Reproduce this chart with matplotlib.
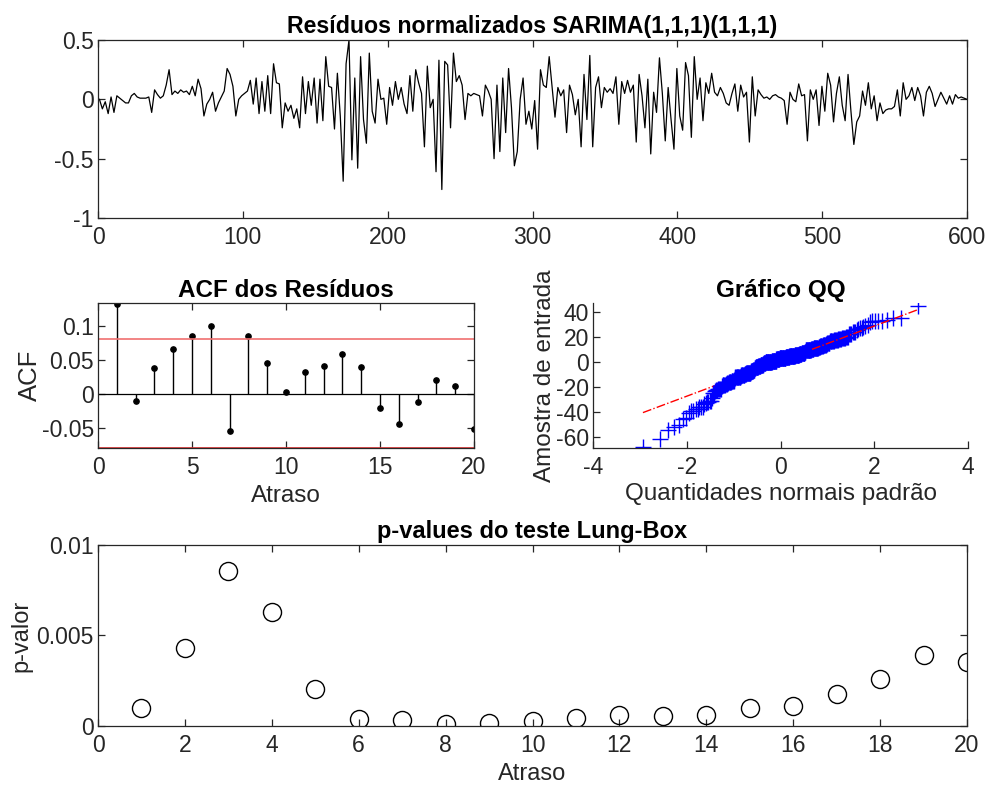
import numpy as np
import matplotlib
matplotlib.use("Agg")
import matplotlib.pyplot as plt
from statistics import NormalDist

plt.rcParams['font.family'] = ['Liberation Sans', 'DejaVu Sans']
plt.rcParams['axes.unicode_minus'] = False

# ---------------- data ----------------
# normalized residuals (read every ~2 samples)
resid = [
    0.0, -0.08, -0.02, -0.12, 0.02, -0.11, 0.03, 0.01, -0.01, -0.03,
    -0.03, 0.03, 0.05, 0.02, 0.01, 0.01, 0.01, 0.02, -0.11, 0.08,
    0.04, 0.01, 0.03, 0.12, 0.25, 0.04, 0.07, 0.05, 0.08, 0.06,
    0.07, 0.04, 0.11, 0.03, 0.17, 0.09, -0.14, -0.04, 0.0, 0.06,
    -0.1, -0.03, 0.02, 0.07, 0.26, 0.21, 0.11, -0.14, 0.0, 0.03,
    0.05, 0.07, 0.16, -0.04, 0.18, -0.12, 0.15, -0.1, 0.2, -0.12,
    0.3, 0.14, 0.13, -0.24, -0.03, -0.1, -0.05, -0.16, -0.08, -0.24,
    0.19, -0.12, 0.15, -0.05, 0.18, -0.2, 0.17, -0.18, 0.36, 0.11,
    0.1, -0.25, 0.22, -0.14, -0.69, 0.3, 0.5, -0.51, 0.18, -0.58,
    0.36, -0.17, -0.37, 0.39, -0.1, -0.2, 0.17, 0.0, 0.01, -0.21,
    0.1, -0.05, 0.15, 0.0, 0.1, -0.04, -0.12, 0.2, -0.1, 0.25,
    0.14, 0.05, -0.4, 0.28, -0.07, 0.0, -0.61, 0.33, -0.76, 0.32,
    0.29, -0.24, 0.39, 0.15, 0.2, 0.12, -0.17, 0.05, 0.03, 0.05,
    0.04, 0.03, -0.14, 0.12, 0.07, 0.0, -0.5, 0.12, -0.44, 0.18,
    -0.28, 0.26, -0.07, -0.56, -0.44, 0.0, 0.18, -0.21, -0.1, -0.25,
    -0.01, -0.42, 0.25, 0.12, 0.1, 0.36, 0.1, -0.15, 0.1, 0.03,
    0.08, -0.28, 0.12, 0.04, -0.13, 0.0, -0.4, 0.21, -0.17, 0.37,
    -0.4, 0.1, 0.19, -0.07, 0.1, 0.06, 0.09, 0.05, 0.19, -0.21,
    0.15, 0.05, 0.16, 0.06, 0.12, -0.36, 0.21, 0.03, -0.24, 0.17,
    -0.46, 0.06, -0.11, 0.35, 0.05, -0.35, 0.1, -0.17, -0.42, 0.26,
    -0.14, -0.26, 0.31, 0.2, -0.32, 0.36, 0.0, 0.18, -0.18, 0.14,
    0.05, 0.22, 0.06, 0.03, 0.1, 0.05, -0.03, -0.05, 0.05, 0.13,
    -0.1, 0.12, 0.02, 0.06, -0.36, 0.19, -0.14, 0.08, 0.04, 0.01,
    0.02, 0.0, 0.03, 0.04, 0.02, 0.01, -0.01, -0.21, 0.06, 0.0,
    -0.02, 0.13, 0.03, 0.04, -0.35, 0.08, 0.0, 0.08, -0.22, 0.11,
    -0.1, 0.22, 0.12, -0.19, 0.05, 0.19, -0.05, -0.18, 0.21, -0.1,
    -0.38, -0.19, -0.14, 0.07, -0.05, 0.14, -0.08, 0.03, -0.18, -0.03,
    -0.12, -0.09, -0.08, -0.08, -0.06, 0.08, -0.14, 0.14, 0.0, 0.03,
    0.1, -0.01, 0.1, 0.03, -0.14, 0.06, 0.11, 0.05, -0.06, 0.0,
    0.06, 0.01, -0.04, 0.03, -0.04, 0.04, 0.01, 0.02, 0.01, 0.0,
]
raw_scale = 90.0  # raw residual scale used in the QQ plot

acf_lags = list(range(1, 21))
acf_vals = [0.132, -0.011, 0.0374, 0.0655, 0.0854, 0.099, -0.0553, 0.0845,
            0.0456, 0.002, 0.0325, 0.0408, 0.0583, 0.0398, -0.0209, -0.0447,
            -0.0121, 0.0204, 0.0117, -0.0515]
acf_bound = 0.0801

lb_lags = list(range(1, 21))
lb_pvals = [0.00101, 0.00433, 0.00857, 0.00629, 0.00205, 0.0004, 0.00031,
            0.0001, 0.00016, 0.00027, 0.00046, 0.00059, 0.00053, 0.00062,
            0.0010, 0.00108, 0.00177, 0.0026, 0.00393, 0.00356]

# ---------------- style ----------------
AX_COL = '#262626'
TICK_FS = 16.5
LAB_FS = 17.5
TITLE_FS = 17


def style(ax, box=True):
    for s in ax.spines.values():
        s.set_color(AX_COL)
        s.set_linewidth(0.9)
    kw = dict(direction='in', length=5, width=0.9, colors=AX_COL,
              labelsize=TICK_FS, labelcolor=AX_COL)
    if box:
        ax.tick_params(top=True, right=True, **kw)
    else:
        ax.spines['top'].set_visible(False)
        ax.spines['right'].set_visible(False)
        ax.tick_params(**kw)
    ax.tick_params(axis='x', pad=6)
    ax.tick_params(axis='y', pad=3)


fig = plt.figure(figsize=(9.92, 7.85), dpi=100)

# --- top: residuals
ax1 = fig.add_axes([0.0988, 0.7223, 0.876, 0.2267])
y = np.array(resid)
x = np.linspace(1, 600, len(y))
ax1.plot(x, y, color='k', lw=0.9)
ax1.set_xlim(0, 600)
ax1.set_ylim(-1, 0.5)
ax1.set_xticks(range(0, 601, 100))
ax1.set_yticks([-1, -0.5, 0, 0.5])
ax1.set_yticklabels(['-1', '-0.5', '0', '0.5'])
style(ax1)
ax1.set_title('Resíduos normalizados SARIMA(1,1,1)(1,1,1)',
              fontsize=TITLE_FS - 0.3, fontweight='bold', pad=5)

# --- ACF
ax2 = fig.add_axes([0.0988, 0.4293, 0.379, 0.1847])
ax2.axhline(0, color='k', lw=0.9)
ax2.vlines(acf_lags, 0, acf_vals, color='k', lw=1.0)
ax2.plot(acf_lags, acf_vals, 'o', color='k', ms=3.8)
ax2.axhline(acf_bound, color='#f07070', lw=1.2)
ax2.axhline(-acf_bound, color='#e03030', lw=1.2)
ax2.set_xlim(0, 20)
ax2.set_ylim(-acf_bound, 0.1335)
ax2.set_xticks([0, 5, 10, 15, 20])
ax2.set_yticks([-0.05, 0, 0.05, 0.1])
ax2.set_yticklabels(['-0.05', '0', '0.05', '0.1'])
style(ax2)
ax2.set_title('ACF dos Resíduos', fontsize=TITLE_FS + 0.5, fontweight='bold', pad=4)
ax2.set_xlabel('Atraso', fontsize=LAB_FS, color=AX_COL, labelpad=4)
ax2.set_ylabel('ACF', fontsize=LAB_FS + 1, color=AX_COL, labelpad=0)

# --- QQ
ax3 = fig.add_axes([0.5978, 0.4293, 0.378, 0.1847])
qy = np.sort(y * raw_scale)
n = len(qy)
nd = NormalDist()
qx = np.array([nd.inv_cdf((i - 0.5) / n) for i in range(1, n + 1)])
q1x, q3x = np.percentile(qx, [25, 75])
q1y, q3y = np.percentile(qy, [25, 75])
slope = (q3y - q1y) / (q3x - q1x)
icpt = q1y - slope * q1x
ax3.plot([q1x, q3x], [icpt + slope * q1x, icpt + slope * q3x], '-', color='r',
         lw=1, zorder=1)
ax3.plot([qx[0], q1x], [icpt + slope * qx[0], icpt + slope * q1x], '-.',
         color='r', lw=1, zorder=1)
ax3.plot([q3x, qx[-1]], [icpt + slope * q3x, icpt + slope * qx[-1]], '-.',
         color='r', lw=1, zorder=3)
ax3.plot(qx, qy, '+', color='#0000ff', ms=12, mew=1.0, zorder=2)
ax3.set_xlim(-4, 4)
ax3.set_ylim(qy.min() - 0.8, 47)
ax3.set_xticks([-4, -2, 0, 2, 4])
ax3.set_yticks([-60, -40, -20, 0, 20, 40])
style(ax3, box=False)
ax3.set_title('Gráfico QQ', fontsize=TITLE_FS + 0.5, fontweight='bold', pad=4)
ax3.set_xlabel('Quantidades normais padrão', fontsize=LAB_FS, color=AX_COL,
               labelpad=3)
ax3.set_ylabel('Amostra de entrada', fontsize=LAB_FS, color=AX_COL, labelpad=0)

# --- Ljung-Box p-values
ax4 = fig.add_axes([0.0988, 0.0752, 0.876, 0.2306])
ax4.plot(lb_lags, lb_pvals, 'o', mfc='none', mec='k', ms=13, mew=1.0)
ax4.set_xlim(0, 20)
ax4.set_ylim(0, 0.01)
ax4.set_xticks(range(0, 21, 2))
ax4.set_yticks([0, 0.005, 0.01])
ax4.set_yticklabels(['0', '0.005', '0.01'])
style(ax4)
ax4.set_title('p-values do teste Lung-Box', fontsize=TITLE_FS,
              fontweight='bold', pad=5)
ax4.set_xlabel('Atraso', fontsize=LAB_FS - 0.5, color=AX_COL, labelpad=4)
ax4.set_ylabel('p-valor', fontsize=LAB_FS - 0.5, color=AX_COL, labelpad=3)

fig.savefig('out.png', dpi=100)
